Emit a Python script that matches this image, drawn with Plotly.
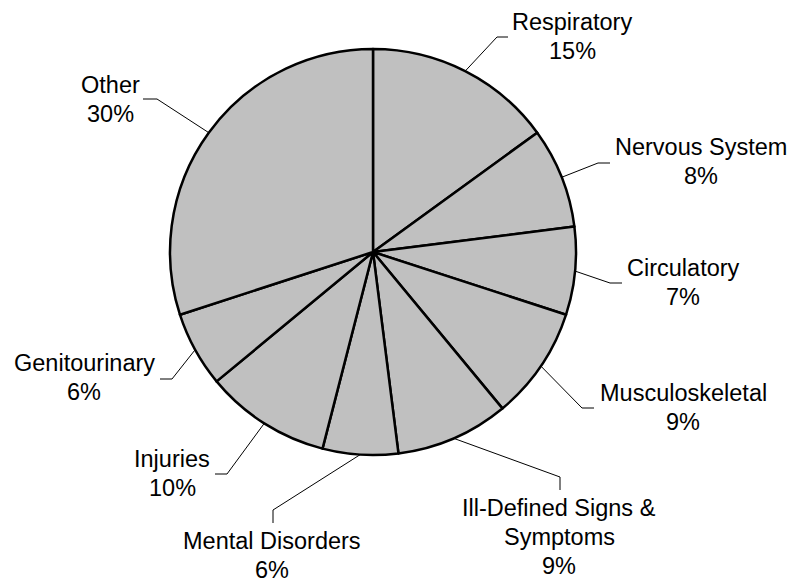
import math
import plotly.graph_objects as go

# Share of cases by diagnostic group (percent)
categories = ["Respiratory", "Nervous System", "Circulatory", "Musculoskeletal",
              "Ill-Defined Signs &<br>Symptoms", "Mental Disorders", "Injuries",
              "Genitourinary", "Other"]
shares = [15, 8, 7, 9, 9, 6, 10, 6, 30]

W, H = 805, 584
CX, CY, R = 373, 252, 203          # pie centre and radius in pixels
FONT = "Liberation Sans, Arial, sans-serif"
FS = 23.5
LINE_GAP = 29

# Label layout per slice: text centre (first line), leader elbow, leader end
label_pos = [(572, 22), (701, 147), (683, 268), (683, 393), (559, 508),
             (272, 541), (172, 459), (84, 363), (110, 85)]
elbows = [(497, 37), (598, 163), (610, 283), (582, 408), (560, 477),
          (273, 510), (227, 474), (172, 379), (157, 99)]
ends = [(508, 37), (610, 163), (622, 283), (594, 408), (560, 490),
        (273, 523), (215, 474), (160, 379), (143, 99)]


def px(x):
    return x / W


def py(y):
    return 1 - y / H


fig = go.Figure(go.Pie(
    values=shares,
    labels=[c.replace("<br>", " ") for c in categories],
    sort=False,
    direction="clockwise",
    rotation=0,
    marker=dict(colors=["#C0C0C0"] * len(shares), line=dict(color="black", width=2.5)),
    textinfo="none",
    hoverinfo="label+percent",
    domain=dict(x=[px(CX - R), px(CX + R)], y=[py(CY + R), py(CY - R)]),
))

annotations = []
shapes = []
total = sum(shares)
cum = 0
for i, (name, v) in enumerate(zip(categories, shares)):
    mid = (cum + v / 2) / total * 2 * math.pi
    cum += v
    sx = CX + R * math.sin(mid)
    sy = CY - R * math.cos(mid)
    ex, ey = elbows[i]
    tx, ty = ends[i]
    shapes.append(dict(type="path", xref="paper", yref="paper",
                       path=f"M {px(sx)},{py(sy)} L {px(ex)},{py(ey)} L {px(tx)},{py(ty)}",
                       line=dict(color="black", width=1)))
    lines = name.split("<br>") + [f"{v}%"]
    lx, ly = label_pos[i]
    for k, t in enumerate(lines):
        annotations.append(dict(x=px(lx), y=py(ly + k * LINE_GAP), xref="paper", yref="paper",
                                text=t, showarrow=False, xanchor="center", yanchor="middle",
                                font=dict(family=FONT, size=FS, color="black")))

fig.update_layout(
    width=W, height=H,
    margin=dict(l=0, r=0, t=0, b=0),
    paper_bgcolor="white",
    plot_bgcolor="white",
    showlegend=False,
    annotations=annotations,
    shapes=shapes,
)

fig.write_html("out.html")
